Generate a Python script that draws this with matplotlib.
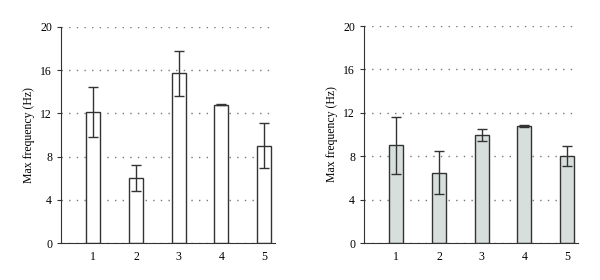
import matplotlib.pyplot as plt
import numpy as np

plt.rcParams['font.family'] = ['Liberation Serif', 'DejaVu Serif']

groups = [1, 2, 3, 4, 5]
left_vals = [12.1, 6.0, 15.7, 12.8, 9.0]
left_err = [2.3, 1.2, 2.05, 0.06, 2.1]
right_vals = [9.0, 6.5, 10.0, 10.8, 8.0]
right_err = [2.65, 1.95, 0.55, 0.12, 0.9]
yticks = [0, 4, 8, 12, 16, 20]

fig = plt.figure(figsize=(6, 2.8), dpi=100)
ax1 = fig.add_axes([0.102, 0.132, 0.356, 0.772])
ax2 = fig.add_axes([0.607, 0.132, 0.356, 0.775])

for ax, vals, err, col in [(ax1, left_vals, left_err, 'white'),
                           (ax2, right_vals, right_err, '#d6dfdc')]:
    ax.set_axisbelow(True)
    ax.grid(axis='y', linestyle=(0, (1, 4.5)), color='#777777', linewidth=1.0)
    ax.bar(groups, vals, width=0.33, color=col, edgecolor='#333333', linewidth=1.0,
           yerr=err, capsize=3.3, error_kw=dict(ecolor='#333333', elinewidth=1.0, capthick=1.0))
    ax.set_xlim(0.25, 5.25)
    ax.set_ylim(0, 20)
    ax.set_yticks(yticks)
    ax.set_xticks(groups)
    ax.tick_params(axis='x', length=0, labelsize=8.5, pad=6)
    ax.tick_params(axis='y', length=3, labelsize=8.5, color='#333333')
    ax.spines['top'].set_visible(False)
    ax.spines['right'].set_visible(False)
    ax.spines['left'].set_color('#333333')
    ax.spines['bottom'].set_color('#333333')
    ax.set_ylabel('Max frequency (Hz)', fontsize=8.5)

fig.savefig('out.png', dpi=100)
